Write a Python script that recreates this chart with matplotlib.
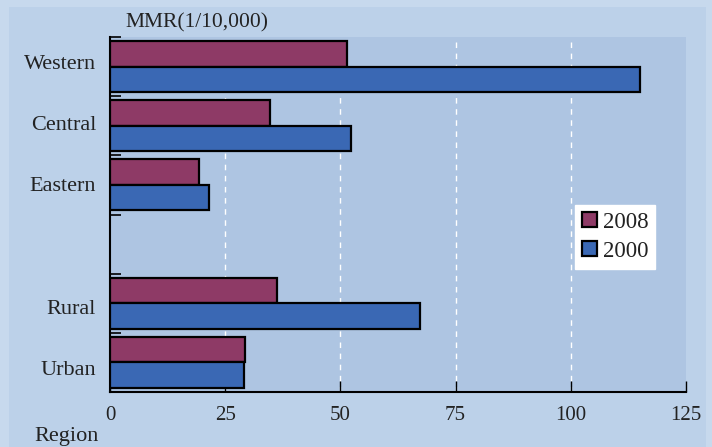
import numpy as np
import matplotlib
matplotlib.use("Agg")
import matplotlib.pyplot as plt
from matplotlib.patches import Rectangle, Patch

# data (MMR per 10,000)
regions = ["Western", "Central", "Eastern", "", "Rural", "Urban"]
mmr_2008 = [51.5, 34.8, 19.3, np.nan, 36.3, 29.4]
mmr_2000 = [115.0, 52.3, 21.5, np.nan, 67.2, 29.0]
x_ticks = [0, 25, 50, 75, 100, 125]

col_2008 = "#8e3a66"
col_2000 = "#3a68b4"
txt = "#222222"

plt.rcParams["font.family"] = ["Liberation Serif", "DejaVu Serif"]

fig = plt.figure(figsize=(7.12, 4.47), dpi=100)
fig.patch.set_facecolor("#c7d9ed")
# inner panel, kept behind the axes
fig.patches.append(Rectangle((9/712, 0), 697/712, 440/447, transform=fig.transFigure,
                             facecolor="#bcd1e9", edgecolor="none", zorder=-10))

ax = fig.add_axes([110/712, 55/447, 576/712, 355/447])
ax.set_zorder(1)
ax.set_facecolor("#aec5e2")

pos = np.arange(len(regions))
h = 0.43
ax.barh(pos - h/2, mmr_2008, height=h, color=col_2008, edgecolor="black", linewidth=1.6, zorder=3)
ax.barh(pos + h/2, mmr_2000, height=h, color=col_2000, edgecolor="black", linewidth=1.6, zorder=3)

ax.set_ylim(len(regions) - 0.5, -0.5)
ax.set_xlim(0, 125)

# slot boundary ticks; labels sit on a slightly wider spacing than the slots, as in the original
ax.set_yticks(np.arange(len(regions) + 1) - 0.5)
ax.set_yticklabels([])
ax.set_yticks(pos * 1.035 - 0.08, minor=True)
ax.set_yticklabels(regions, minor=True, fontsize=16, color=txt)
ax.tick_params(axis="y", which="major", direction="in", length=8, width=1.2, color="black")
ax.tick_params(axis="y", which="minor", length=0, pad=10)

ax.set_xticks(x_ticks)
ax.set_xticklabels([str(v) for v in x_ticks], fontsize=15, color=txt)
ax.tick_params(axis="x", direction="in", length=8, width=1.0, color="black", pad=10)

for v in x_ticks[1:-1]:
    ax.axvline(v, color="white", linestyle=(0, (4, 4)), linewidth=1.0, zorder=1)

for s in ["top", "right"]:
    ax.spines[s].set_visible(False)
for s in ["left", "bottom"]:
    ax.spines[s].set_color("black")
    ax.spines[s].set_linewidth(1.5)

fig.text(125/712, 1 - 23/447, "MMR(1/10,000)", fontsize=15.5, color=txt, ha="left", va="center")
fig.text(99/712, 1 - 436/447, "Region", fontsize=16, color=txt, ha="right", va="center")

handles = [Patch(facecolor=col_2008, edgecolor="black", linewidth=1.6, label="2008"),
           Patch(facecolor=col_2000, edgecolor="black", linewidth=1.6, label="2000")]
leg = ax.legend(handles=handles, loc="upper left", bbox_to_anchor=(575/712, 1 - 205/447),
                bbox_transform=fig.transFigure, fontsize=16.5, frameon=True, fancybox=False,
                handlelength=0.65, handleheight=0.65, handletextpad=0.25, borderpad=0.3,
                labelspacing=0.35, borderaxespad=0)
leg.get_frame().set_facecolor("white")
leg.get_frame().set_edgecolor("white")
leg.get_frame().set_alpha(1)
for t in leg.get_texts():
    t.set_color(txt)

fig.savefig("out.png", dpi=100, facecolor=fig.get_facecolor())
